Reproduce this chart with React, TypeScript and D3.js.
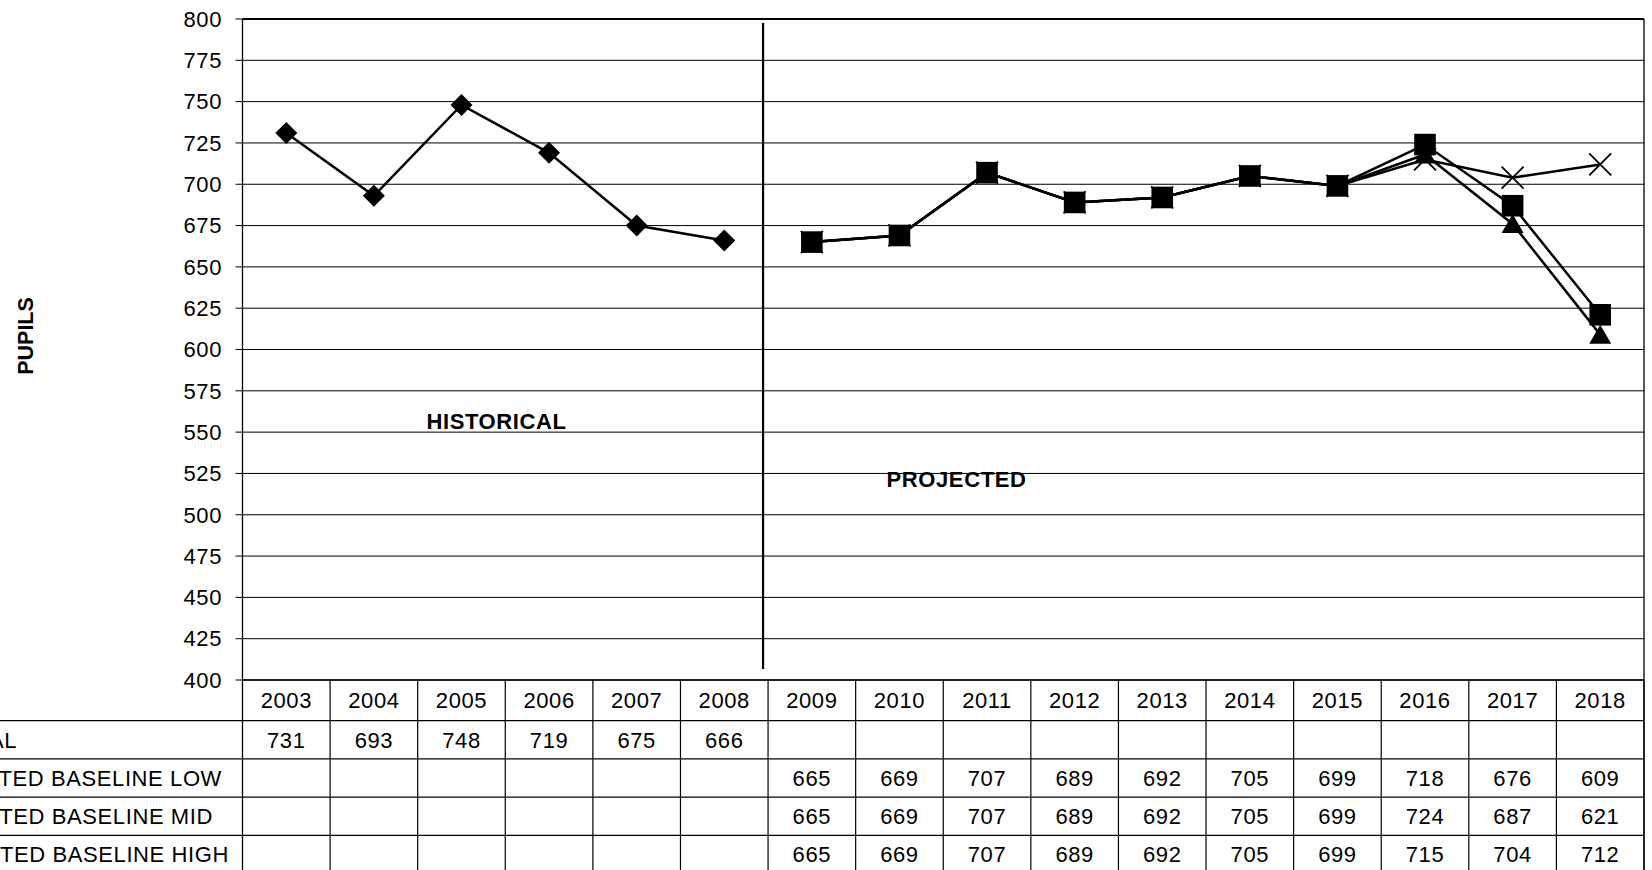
import React from "react";
import * as d3 from "d3";

const years = ["2003","2004","2005","2006","2007","2008","2009","2010","2011","2012","2013","2014","2015","2016","2017","2018"];
const actualYears = ["2003","2004","2005","2006","2007","2008"];
const actualValues = [731, 693, 748, 719, 675, 666];
const projYears = ["2009","2010","2011","2012","2013","2014","2015","2016","2017","2018"];
const lowValues = [665, 669, 707, 689, 692, 705, 699, 718, 676, 609];
const midValues = [665, 669, 707, 689, 692, 705, 699, 724, 687, 621];
const highValues = [665, 669, 707, 689, 692, 705, 699, 715, 704, 712];
const yTicks = [400, 425, 450, 475, 500, 525, 550, 575, 600, 625, 650, 675, 700, 725, 750, 775, 800];
const seriesNames = ["ACTUAL", "PROJECTED BASELINE LOW", "PROJECTED BASELINE MID", "PROJECTED BASELINE HIGH"];

type Series = { name: string; years: string[]; values: number[]; marker: string };
const series: Series[] = [
  { name: seriesNames[0], years: actualYears, values: actualValues, marker: "diamond" },
  { name: seriesNames[1], years: projYears, values: lowValues, marker: "triangle" },
  { name: seriesNames[2], years: projYears, values: midValues, marker: "square" },
  { name: seriesNames[3], years: projYears, values: highValues, marker: "x" },
];

const W = 1652, H = 870;
const left = 242.5, right = 1644, top = 19, bottom = 680;
const headerBottom = 720.7, rowH = 38.2;
const labelEnds = [17, 222, 213, 229];
const FONT = "'Liberation Sans', Arial, sans-serif";
const FS = 22;
const LS = 0.6;

function Marker({ type, cx, cy }: { type: string; cx: number; cy: number }) {
  if (type === "diamond") {
    const s = 11;
    return <path d={`M${cx},${cy - s}L${cx + s},${cy}L${cx},${cy + s}L${cx - s},${cy}Z`} fill="#000" />;
  }
  if (type === "square") {
    const s = 10.8;
    return <rect x={cx - s} y={cy - s} width={2 * s} height={2 * s} fill="#000" />;
  }
  if (type === "triangle") {
    const w = 11, h = 18;
    return <path d={`M${cx},${cy - h / 2 - 1}L${cx + w},${cy + h / 2}L${cx - w},${cy + h / 2}Z`} fill="#000" />;
  }
  const s = 11;
  return (
    <path d={`M${cx - s},${cy - s}L${cx + s},${cy + s}M${cx + s},${cy - s}L${cx - s},${cy + s}`} stroke="#000" strokeWidth={1.8} fill="none" />
  );
}

export default function App() {
  const x = d3.scaleBand<string>().domain(years).range([left, right]);
  const y = d3.scaleLinear().domain([400, 800]).range([bottom, top]);
  const cx = (yr: string) => (x(yr) as number) + x.bandwidth() / 2;
  const line = d3.line<[string, number]>().x((d) => cx(d[0])).y((d) => y(d[1]));

  const rows = [
    { name: seriesNames[0], map: new Map(actualYears.map((yr, i) => [yr, actualValues[i]])) },
    { name: seriesNames[1], map: new Map(projYears.map((yr, i) => [yr, lowValues[i]])) },
    { name: seriesNames[2], map: new Map(projYears.map((yr, i) => [yr, midValues[i]])) },
    { name: seriesNames[3], map: new Map(projYears.map((yr, i) => [yr, highValues[i]])) },
  ];

  const dividerX = (x("2009") as number) - 5;

  return (
    <svg width={W} height={H} style={{ position: "absolute", left: 0, top: 0, background: "#fff" }} fontFamily={FONT}>
      <rect x={0} y={0} width={W} height={H} fill="#fff" />
      {/* gridlines */}
      {yTicks.map((t) => (
        <g key={t}>
          <line x1={left - 7} x2={right} y1={y(t)} y2={y(t)} stroke="#000" strokeWidth={1} />
          <text x={222} y={y(t) + 7.8} fontSize={FS} letterSpacing={LS} textAnchor="end" fill="#000">{t}</text>
        </g>
      ))}
      {/* plot frame */}
      <line x1={left} x2={right} y1={top} y2={top} stroke="#000" strokeWidth={2} />
      <line x1={left} x2={left} y1={top} y2={H} stroke="#000" strokeWidth={1.3} />
      <line x1={right} x2={right} y1={top} y2={H} stroke="#000" strokeWidth={1.3} />
      <line x1={left} x2={right} y1={bottom} y2={bottom} stroke="#000" strokeWidth={1.5} />

      {/* divider */}
      <line x1={dividerX} x2={dividerX} y1={23} y2={669} stroke="#000" strokeWidth={2.2} />
      <text x={496.5} y={429} fontSize={FS} letterSpacing={LS} fontWeight="bold" textAnchor="middle">HISTORICAL</text>
      <text x={956.5} y={486.5} fontSize={FS} letterSpacing={LS} fontWeight="bold" textAnchor="middle">PROJECTED</text>

      {/* axis title */}
      <text transform="translate(33,336) rotate(-90)" fontSize={21.5} fontWeight="bold" textAnchor="middle">PUPILS</text>

      {/* series lines */}
      {series.map((s) => (
        <path key={s.name + "l"} d={line(s.years.map((yr, i) => [yr, s.values[i]] as [string, number])) || ""} fill="none" stroke="#000" strokeWidth={2.5} />
      ))}
      {series.map((s) => (
        <g key={s.name + "m"}>
          {s.years.map((yr, i) => (
            <Marker key={yr} type={s.marker} cx={cx(yr)} cy={y(s.values[i])} />
          ))}
        </g>
      ))}

      {/* data table */}
      {years.map((yr) => (
        <g key={yr}>
          <line x1={(x(yr) as number) + x.bandwidth()} x2={(x(yr) as number) + x.bandwidth()} y1={bottom} y2={H} stroke="#000" strokeWidth={1.2} />
          <text x={cx(yr)} y={708} fontSize={FS} letterSpacing={LS} textAnchor="middle">{yr}</text>
        </g>
      ))}
      {rows.map((r, i) => {
        const y0 = headerBottom + i * rowH;
        return (
          <g key={r.name}>
            <line x1={0} x2={right} y1={y0} y2={y0} stroke="#000" strokeWidth={1.2} />
            <text x={labelEnds[i]} y={y0 + rowH / 2 + 8} fontSize={FS} letterSpacing={LS} textAnchor="end">{r.name}</text>
            {years.map((yr) =>
              r.map.has(yr) ? (
                <text key={yr} x={cx(yr)} y={y0 + rowH / 2 + 8} fontSize={FS} letterSpacing={LS} textAnchor="middle">{r.map.get(yr)}</text>
              ) : null
            )}
          </g>
        );
      })}
    </svg>
  );
}
